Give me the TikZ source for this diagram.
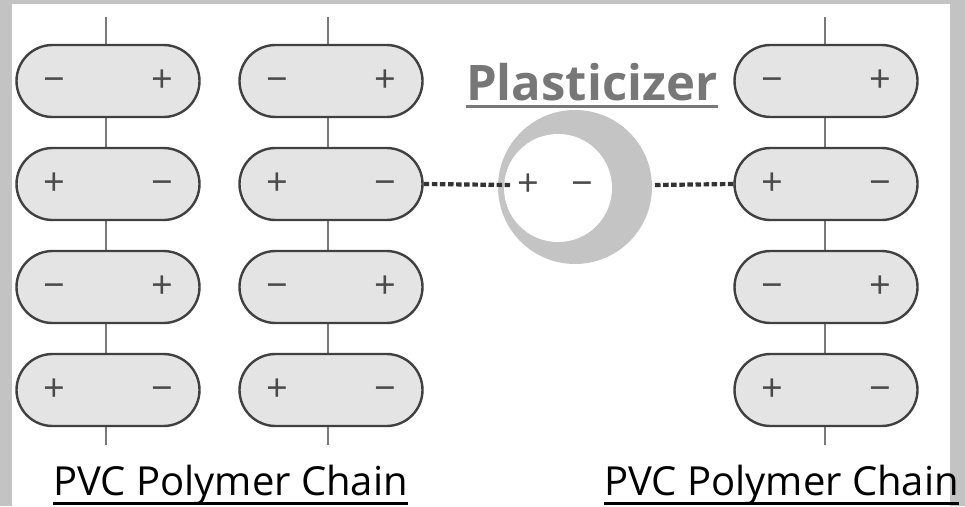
\documentclass[tikz,border=0pt]{standalone}
\usepackage{fontspec}
\setmainfont{Open Sans}
\usetikzlibrary{shapes.misc}
\definecolor{frame}{HTML}{C3C3C3}
\definecolor{pillfill}{HTML}{E4E4E4}
\definecolor{pilldraw}{HTML}{404040}
\definecolor{stem}{HTML}{7A7A7A}
\definecolor{signc}{HTML}{4A4A4A}
\definecolor{ring}{HTML}{C4C4C4}
\definecolor{titlec}{HTML}{777777}
\tikzset{
  pill/.style={rounded rectangle, draw=pilldraw, fill=pillfill, line width=2.4pt,
    minimum width=183pt, minimum height=72pt, inner sep=0pt},
  sgn/.style={text=signc, font=\fontsize{38}{38}\selectfont, inner sep=0pt},
  stemline/.style={draw=stem, line width=2pt},
  bond/.style={draw=pilldraw!80!black, line width=4.2pt, dash pattern=on 5.5pt off 2.6pt},
  chainlabel/.style={font=\fontsize{40}{40}\selectfont, inner sep=0pt, anchor=base west},
}
\newcommand{\sg}[1]{\vphantom{+}#1}
\begin{document}
\begin{tikzpicture}[x=1pt,y=-1pt]
\useasboundingbox (0,0) rectangle (965,506);
\fill[frame] (0,0) rectangle (965,506);
\fill[white] (12,4) rectangle (950,506);
% stems
\foreach \c/\x in {1/106,2/328,3/825}{
  \coordinate (t\c) at (\x,17);
  \coordinate (b\c) at (\x,445);
  \draw[stemline] (t\c) -- (b\c);
}
% pills
\foreach \c/\x in {1/108,2/331,3/826}{
  \foreach \r/\y/\l/\rr in {1/81/−/+,2/184/+/−,3/287/−/+,4/390/+/−}{
    \node[pill] (p\c\r) at (\x,\y) {};
    \node[sgn] (l\c\r) at ([xshift=-54pt]p\c\r.center) {\sg{\l}};
    \node[sgn] (r\c\r) at ([xshift=54pt]p\c\r.center) {\sg{\rr}};
  }
}
% plasticizer
\fill[ring] (575,187) circle (77pt);
\fill[white] (558,188) circle (54pt);
\node[sgn] (pp) at (528,185) {\sg{+}};
\node[sgn] (pm) at (582,185) {\sg{−}};
\coordinate (bl) at (510,185);
\coordinate (br) at (655,185);
\draw[bond] (p22.east) -- (bl);
\draw[bond] (br) -- (p32.west);
\node[inner sep=0pt, anchor=base west, text=titlec, font=\bfseries\fontsize{49}{49}\selectfont] (title) at (466,100) {Plasticizer};
\draw[titlec, line width=3pt] ([yshift=-6pt]title.base west) -- ([yshift=-6pt]title.base east);
% labels
\node[chainlabel] (c1) at (53,495) {PVC Polymer Chain};
\node[chainlabel] (c2) at (604,495) {PVC Polymer Chain};
\draw[black, line width=3pt] ([yshift=-8pt]c1.base west) -- ([yshift=-8pt]c1.base east);
\draw[black, line width=3pt] ([yshift=-8pt]c2.base west) -- ([yshift=-8pt]c2.base east);
\end{tikzpicture}
\end{document}
